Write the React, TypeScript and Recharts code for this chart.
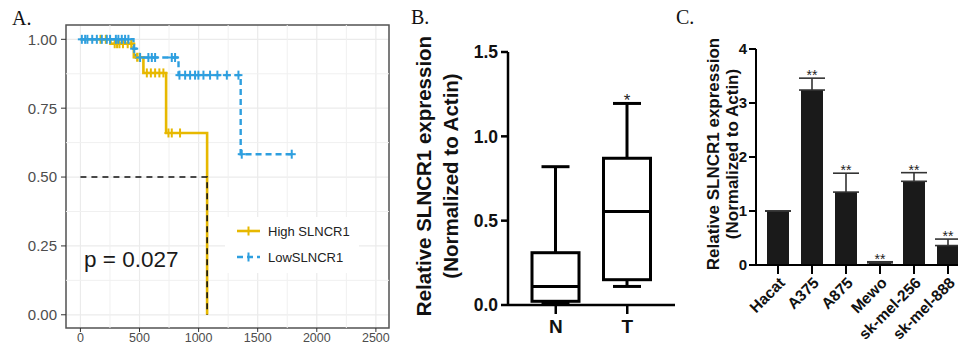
import React from 'react';
import {
  ComposedChart, Line, Scatter, XAxis, YAxis, CartesianGrid, ReferenceLine,
  ReferenceArea, Bar, ErrorBar,
} from 'recharts';

// ---------- Panel A: Kaplan-Meier ----------
const kmTicksX = [0, 500, 1000, 1500, 2000, 2500];
const kmTicksY = [0, 0.25, 0.5, 0.75, 1];
const kmMinorX = [250, 750, 1250, 1750, 2250];
const kmMinorY = [0.125, 0.375, 0.625, 0.875];

const highSteps = [
  { t: 0, s: 1 }, { t: 254, s: 0.984 }, { t: 452, s: 0.935 }, { t: 533, s: 0.878 },
  { t: 725, s: 0.66 }, { t: 1072, s: 0 },
];
const lowSteps = [
  { t: 0, s: 1 }, { t: 449, s: 0.966 }, { t: 470, s: 0.934 }, { t: 830, s: 0.87 },
  { t: 1356, s: 0.583 }, { t: 1788, s: 0.583 },
];
const highCensor = [
  { t: 170, s: 1 }, { t: 215, s: 1 },
  { t: 290, s: 0.984 }, { t: 310, s: 0.984 }, { t: 330, s: 0.984 }, { t: 360, s: 0.984 }, { t: 400, s: 0.984 }, { t: 430, s: 0.984 },
  { t: 480, s: 0.935 }, { t: 500, s: 0.935 },
  { t: 562, s: 0.878 }, { t: 596, s: 0.878 }, { t: 632, s: 0.878 }, { t: 668, s: 0.878 }, { t: 702, s: 0.878 },
  { t: 745, s: 0.66 }, { t: 773, s: 0.66 }, { t: 843, s: 0.66 },
];
const lowCensor = [
  { t: 12, s: 1 }, { t: 40, s: 1 }, { t: 59, s: 1 }, { t: 100, s: 1 }, { t: 139, s: 1 }, { t: 181, s: 1 },
  { t: 223, s: 1 }, { t: 251, s: 1 }, { t: 300, s: 1 }, { t: 321, s: 1 }, { t: 350, s: 1 }, { t: 378, s: 1 }, { t: 406, s: 1 },
  { t: 455, s: 0.966 },
  { t: 505, s: 0.934 }, { t: 575, s: 0.934 }, { t: 604, s: 0.934 }, { t: 632, s: 0.934 }, { t: 773, s: 0.934 }, { t: 801, s: 0.934 },
  { t: 838, s: 0.87 }, { t: 886, s: 0.87 }, { t: 928, s: 0.87 }, { t: 970, s: 0.87 }, { t: 998, s: 0.87 },
  { t: 1041, s: 0.87 }, { t: 1097, s: 0.87 }, { t: 1159, s: 0.87 }, { t: 1239, s: 0.87 }, { t: 1337, s: 0.87 },
  { t: 1365, s: 0.583 }, { t: 1788, s: 0.583 },
];
const medianPath = [{ t: 0, s: 0.5 }, { t: 1072, s: 0.5 }, { t: 1072, s: 0 }];

const HIGH = '#E7B800';
const LOW = '#2E9FDF';

// ---------- Panel B: box plot ----------
const boxCats = ['N', 'T'];
const boxMin = [0.01, 0.11];
const boxQ1 = [0.022, 0.15];
const boxMedian = [0.11, 0.555];
const boxQ3 = [0.31, 0.87];
const boxMax = [0.82, 1.195];
const boxSig = ['', '*'];

// ---------- Panel C: bar chart ----------
const cellLines = ['Hacat', 'A375', 'A875', 'Mewo', 'sk-mel-256', 'sk-mel-888'];
const cellMeans = [1.0, 3.24, 1.35, 0.04, 1.55, 0.36];
const cellErr = [0, 0.22, 0.35, 0.02, 0.16, 0.12];
const cellSig = ['', '**', '**', '**', '**', '**'];

const boxData = boxCats.map((c, i) => ({
  cat: c, min: boxMin[i], q1: boxQ1[i], median: boxMedian[i], q3: boxQ3[i], max: boxMax[i], sig: boxSig[i],
}));
const barData = cellLines.map((c, i) => ({
  cat: c, mean: cellMeans[i], err: [0, cellErr[i]],
  top: cellSig[i] ? cellMeans[i] + cellErr[i] : null, sig: cellSig[i],
}));

const SANS = '"Liberation Sans", Arial, sans-serif';
const SERIF = '"Liberation Serif", "Times New Roman", serif';

const makeCross = (color: string) => (props: any) => {
  const { cx, cy } = props;
  if (cx == null || cy == null) return <g />;
  return (
    <g>
      <line x1={cx - 4} x2={cx + 4} y1={cy} y2={cy} stroke={color} strokeWidth={2} />
      <line x1={cx} x2={cx} y1={cy - 4.5} y2={cy + 4.5} stroke={color} strokeWidth={2} />
    </g>
  );
};

const BoxShape = (props: any) => {
  const { x, y, width, height, payload } = props;
  const y0 = y + height;
  const py = (v: number) => y0 - (v / payload.max) * height;
  const cx = x + width / 2;
  const capW = 28;
  const sw = 3;
  return (
    <g>
      <line x1={cx} x2={cx} y1={py(payload.max)} y2={py(payload.q3)} stroke="#000" strokeWidth={sw} />
      <line x1={cx} x2={cx} y1={py(payload.q1)} y2={py(payload.min)} stroke="#000" strokeWidth={sw} />
      <line x1={cx - capW / 2} x2={cx + capW / 2} y1={py(payload.max)} y2={py(payload.max)} stroke="#000" strokeWidth={sw} />
      <line x1={cx - capW / 2} x2={cx + capW / 2} y1={py(payload.min)} y2={py(payload.min)} stroke="#000" strokeWidth={sw} />
      <rect x={x} y={py(payload.q3)} width={width} height={py(payload.q1) - py(payload.q3)} fill="#fff" stroke="#000" strokeWidth={sw} />
      <line x1={x} x2={x + width} y1={py(payload.median)} y2={py(payload.median)} stroke="#000" strokeWidth={sw} />
      {payload.sig ? (
        <text x={cx} y={py(payload.max) + 3} textAnchor="middle" fontSize={17} fontFamily={SANS} fill="#222">{payload.sig}</text>
      ) : null}
    </g>
  );
};

const StarDot = (props: any) => {
  const { cx, cy, payload } = props;
  if (!payload || !payload.sig || cy == null) return <g />;
  return (
    <text x={cx} y={cy + 2} textAnchor="middle" fontSize={14} fontFamily={SANS} fill="#222">{payload.sig}</text>
  );
};

const RotTick = (props: any) => {
  const { x, y, payload } = props;
  return (
    <g transform={`translate(${x + 4},${y + 4})`}>
      <text transform="rotate(-45)" textAnchor="end" dy="0.35em" fontSize={15.5} fontWeight="bold" fontFamily={SANS} fill="#111">
        {payload.value}
      </text>
    </g>
  );
};

const rotLabel = (left: number, top: number, size: number, text: string) => (
  <div
    style={{
      position: 'absolute', left, top, transform: 'translate(-50%,-50%) rotate(-90deg)',
      whiteSpace: 'nowrap', fontFamily: SANS, fontWeight: 'bold', fontSize: size, color: '#111', lineHeight: 1,
    }}
  >
    {text}
  </div>
);

export default function App() {
  return (
    <div style={{ position: 'absolute', left: 0, top: 0, width: 958, height: 344, overflow: 'hidden', background: '#fff' }}>
      {/* Panel A */}
      <div style={{ position: 'absolute', left: 0, top: 0 }}>
        <ComposedChart width={400} height={344} margin={{ top: 25, right: 11, bottom: 0, left: 0 }}>
          <CartesianGrid stroke="#EBEBEB" strokeWidth={1.2} />
          {kmMinorX.map((v) => (
            <ReferenceLine key={'mx' + v} x={v} stroke="#F0F0F0" strokeWidth={1} />
          ))}
          {kmMinorY.map((v) => (
            <ReferenceLine key={'my' + v} y={v} stroke="#F0F0F0" strokeWidth={1} />
          ))}
          <XAxis
            type="number" dataKey="t" domain={[-122, 2611]} ticks={kmTicksX} allowDataOverflow
            axisLine={false} stroke="#333" tickSize={4} tickMargin={1} height={16}
            tick={{ fontSize: 12.5, fill: '#4D4D4D', fontFamily: SANS }}
          />
          <YAxis
            type="number" dataKey="s" domain={[-0.048, 1.052]} ticks={kmTicksY} allowDataOverflow
            axisLine={false} stroke="#333" tickSize={5} tickMargin={4} width={66}
            tickFormatter={(v: number) => v.toFixed(2)}
            tick={{ fontSize: 15, fill: '#4D4D4D', fontFamily: SANS }}
          />
          <Line data={highSteps} dataKey="s" type="stepAfter" stroke={HIGH} strokeWidth={2.6} dot={false} isAnimationActive={false} />
          <Scatter data={highCensor} dataKey="s" fill={HIGH} shape={makeCross(HIGH)} isAnimationActive={false} />
          <Line data={lowSteps} dataKey="s" type="stepAfter" stroke={LOW} strokeWidth={2.4} strokeDasharray="6 4" dot={false} isAnimationActive={false} />
          <Scatter data={lowCensor} dataKey="s" fill={LOW} shape={makeCross(LOW)} isAnimationActive={false} />
          <Line data={medianPath} dataKey="s" type="linear" stroke="#111" strokeWidth={1.6} strokeDasharray="6 5" dot={false} isAnimationActive={false} />
          <ReferenceArea x1={-122} x2={2611} y1={-0.048} y2={1.052} fill="none" stroke="#555" strokeWidth={1.5} />
        </ComposedChart>
      </div>
      {/* Legend A */}
      <svg style={{ position: 'absolute', left: 225, top: 217 }} width={134} height={56}>
        <rect x={0} y={0} width={134} height={56} fill="#fff" />
        <line x1={12} x2={35} y1={14} y2={14} stroke={HIGH} strokeWidth={2.6} />
        <line x1={23.5} x2={23.5} y1={9.5} y2={18.5} stroke={HIGH} strokeWidth={2} />
        <text x={43} y={18.5} fontSize={13} fontFamily={SANS} fill="#222">High SLNCR1</text>
        <line x1={12} x2={35} y1={40} y2={40} stroke={LOW} strokeWidth={2.4} strokeDasharray="6 4" />
        <line x1={23.5} x2={23.5} y1={35.5} y2={44.5} stroke={LOW} strokeWidth={2} />
        <text x={43} y={44.5} fontSize={13} fontFamily={SANS} fill="#222">LowSLNCR1</text>
      </svg>
      <div style={{ position: 'absolute', left: 84, top: 249, fontFamily: SANS, fontSize: 22.5, color: '#1a1a1a', lineHeight: 1, whiteSpace: 'nowrap' }}>
        p = 0.027
      </div>
      <div style={{ position: 'absolute', left: 12, top: 8, fontFamily: SERIF, fontSize: 20, color: '#111', lineHeight: 1 }}>A.</div>

      {/* Panel B */}
      <div style={{ position: 'absolute', left: 380, top: 0 }}>
        <ComposedChart width={300} height={344} data={boxData} margin={{ top: 52, right: 5, bottom: 0, left: 0 }}>
          <XAxis
            dataKey="cat" type="category" padding={{ left: 12, right: 12 }} height={39}
            stroke="#000" strokeWidth={2.5} tickSize={9} tickMargin={6}
            tick={{ fontSize: 19, fontWeight: 'bold', fill: '#111', fontFamily: SANS }}
          />
          <YAxis
            type="number" domain={[0, 1.5]} ticks={[0, 0.5, 1, 1.5]} width={128}
            stroke="#000" strokeWidth={2.5} tickSize={7} tickMargin={3}
            tickFormatter={(v: number) => v.toFixed(1)}
            tick={{ fontSize: 17.5, fontWeight: 'bold', fill: '#111', fontFamily: SANS }}
          />
          <Bar dataKey="max" barSize={47} shape={<BoxShape />} isAnimationActive={false} />
        </ComposedChart>
      </div>
      {rotLabel(424, 176, 20.5, 'Relative SLNCR1 expression')}
      {rotLabel(451, 176, 20.5, '(Normalized to Actin)')}
      <div style={{ position: 'absolute', left: 411, top: 7, fontFamily: SERIF, fontSize: 20, color: '#111', lineHeight: 1 }}>B.</div>

      {/* Panel C */}
      <div style={{ position: 'absolute', left: 680, top: 0 }}>
        <ComposedChart width={285} height={344} data={barData} margin={{ top: 49, right: 0, bottom: 0, left: 0 }}>
          <XAxis
            dataKey="cat" type="category" padding={{ left: 5, right: 0 }} height={79}
            stroke="#000" strokeWidth={2} tickSize={9} interval={0}
            tick={<RotTick />}
          />
          <YAxis
            type="number" domain={[0, 4]} ticks={[0, 1, 2, 3, 4]} width={76}
            stroke="#000" strokeWidth={2} tickSize={7} tickMargin={2}
            tick={{ fontSize: 15, fontWeight: 'bold', fill: '#111', fontFamily: SANS }}
          />
          <Bar dataKey="mean" barSize={22} fill="#1a1a1a" isAnimationActive={false}>
            <ErrorBar dataKey="err" width={13} stroke="#333" strokeWidth={1.6} direction="y" />
          </Bar>
          <Line dataKey="top" stroke="none" dot={<StarDot />} activeDot={false} isAnimationActive={false} />
        </ComposedChart>
      </div>
      {rotLabel(713, 154, 17, 'Relative SLNCR1 expression')}
      {rotLabel(732, 154, 17, '(Normalized to Actin)')}
      <div style={{ position: 'absolute', left: 676, top: 7, fontFamily: SERIF, fontSize: 20, color: '#111', lineHeight: 1 }}>C.</div>
    </div>
  );
}
